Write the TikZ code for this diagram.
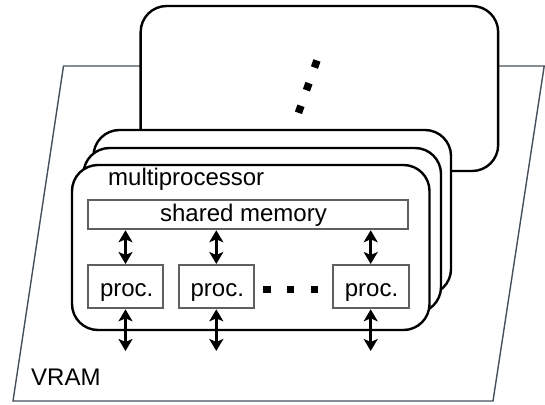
\documentclass[tikz,border=0pt]{standalone}
\usepackage{fontspec}
\setmainfont{Liberation Sans}
\usetikzlibrary{arrows.meta}
\definecolor{boxgray}{RGB}{95,95,95}
\definecolor{vramcol}{RGB}{70,80,90}
\begin{document}
\begin{tikzpicture}[x=1pt,y=-1pt,
  mpbox/.style={draw=black, line width=2.4pt, fill=white, rounded corners=26pt,
    minimum width=357.5pt, minimum height=165pt, inner sep=0pt},
  graybox/.style={draw=boxgray, line width=2pt, fill=white, inner sep=0pt},
  lbl/.style={inner sep=0pt, font=\fontsize{24}{28}\selectfont},
  biarrow/.style={line width=2.9pt,
    {Stealth[length=12pt,width=14pt,inset=3pt]}-{Stealth[length=12pt,width=14pt,inset=3pt]}},
  sqdot/.style={fill=black, minimum size=7.5pt, inner sep=0pt}]
\useasboundingbox (0,0) rectangle (545,404);
% VRAM plane
\draw[draw=vramcol, line width=1.4pt, line join=miter]
  (63.5,66) -- (544.2,66) -- (493,401) -- (13,401) -- cycle;
\node[lbl, anchor=base west] (vram) at (31,385.7) {VRAM};
% further multiprocessor (back)
\node[mpbox] (top) at (319.4,88.5) {};
\node[sqdot, rotate=-20] (v1) at (315.7,64) {};
\node[sqdot, rotate=-20] (v2) at (307.7,86.7) {};
\node[sqdot, rotate=-20] (v3) at (299.7,109.3) {};
% stack
\node[mpbox] (mp1) at (272.25,212.5) {};
\node[mpbox] (mp2) at (262.25,230.5) {};
\node[mpbox] (mp3) at (250.75,247.5) {};
\node[lbl, anchor=base west] (mplabel) at (108,185) {multiprocessor};
% shared memory
\node[graybox, minimum width=320.6pt, minimum height=29.5pt] (shm) at (247.9,214.5) {};
\node[lbl, anchor=base] (shmlabel) at (243.5,221.7) {shared memory};
% processors
\node[graybox, minimum width=75.6pt, minimum height=43.3pt] (p1) at (125.5,286.65) {};
\node[graybox, minimum width=75.6pt, minimum height=43.3pt] (p2) at (216.3,286.65) {};
\node[graybox, minimum width=75.6pt, minimum height=43.3pt] (p3) at (370.7,286.65) {};
\node[lbl, anchor=base] (p1l) at (126.7,296) {proc.};
\node[lbl, anchor=base] (p2l) at (217.3,296) {proc.};
\node[lbl, anchor=base] (p3l) at (371.5,296) {proc.};
\node[sqdot] (h1) at (266.8,289.5) {};
\node[sqdot] (h2) at (290.6,289.5) {};
\node[sqdot] (h3) at (314.7,289.5) {};
% arrows
\coordinate (bot) at (0,351);
\foreach \p in {p1,p2,p3}{
  \draw[biarrow] (shm.south -| \p.north) -- (\p.north);
  \draw[biarrow] (\p.south) -- (\p.south |- bot);
}
\end{tikzpicture}
\end{document}
